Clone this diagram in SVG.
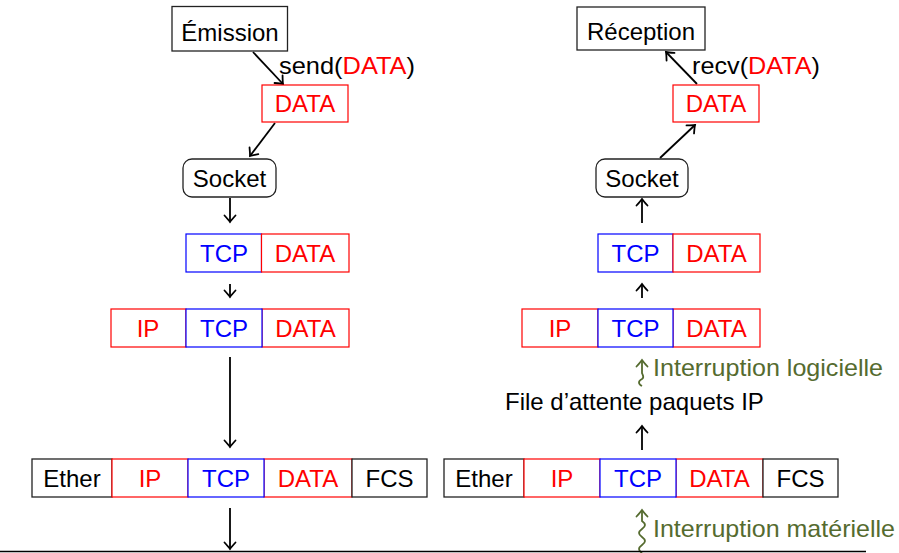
<svg xmlns="http://www.w3.org/2000/svg" width="899" height="553" viewBox="0 0 899 553">
  <defs>
    <marker id="arr" viewBox="-8 -8 16 16" markerWidth="16" markerHeight="16" refX="0" refY="0" orient="auto" markerUnits="userSpaceOnUse">
      <path d="M-6.5,-5.5 Q-1.8,-1.2 0,0 Q-1.8,1.2 -6.5,5.5" fill="none" stroke="#000" stroke-width="1.8" stroke-linecap="round"/>
    </marker>
    <marker id="arrg" viewBox="-8 -8 16 16" markerWidth="16" markerHeight="16" refX="0" refY="0" orient="auto" markerUnits="userSpaceOnUse">
      <path d="M-6.5,-5.5 Q-1.8,-1.2 0,0 Q-1.8,1.2 -6.5,5.5" fill="none" stroke="#556b2f" stroke-width="1.8" stroke-linecap="round"/>
    </marker>
  </defs>
  <style>
    text { font-family: "Liberation Sans", Arial, sans-serif; font-size: 24px; }
    .c { text-anchor: middle; }
    .k { fill: #000; }
    .r { fill: #ff0000; }
    .b { fill: #0000ff; }
    .g { fill: #556b2f; }
    .bk { fill: #fff; stroke: #222; stroke-width: 1.3; }
    .br { fill: #fff; stroke: #ff0000; stroke-width: 1.2; }
    .bb { fill: #fff; stroke: #0000ff; stroke-width: 1.2; }
    .ln { fill: none; stroke: #000; stroke-width: 1.8; marker-end: url(#arr); }
    .sn { fill: none; stroke: #556b2f; stroke-width: 1.8; marker-end: url(#arrg); }
  </style>

  <!-- connectors -->
  <g id="connectors">
    <line class="ln" x1="253" y1="52" x2="283" y2="84"/>
    <line class="ln" x1="275" y1="123" x2="250" y2="156"/>
    <line class="ln" x1="230" y1="198" x2="230" y2="222"/>
    <line class="ln" x1="230" y1="284" x2="230" y2="297"/>
    <line class="ln" x1="230" y1="357" x2="230" y2="447"/>
    <line class="ln" x1="230" y1="508" x2="230" y2="549"/>

    <line class="ln" x1="697" y1="84" x2="666" y2="52"/>
    <line class="ln" x1="660" y1="158" x2="695" y2="125"/>
    <line class="ln" x1="642" y1="223" x2="642" y2="199"/>
    <line class="ln" x1="642" y1="298" x2="642" y2="284"/>
    <line class="ln" x1="642" y1="450" x2="642" y2="426"/>

    <path class="sn" d="M642,386 c -4,-2 -4,-5 0,-7 c 3,-2 0,-5 0,-6 L642,360"/>
    <path class="sn" d="M642,553 c -4,-3 -4,-5 0,-8 c 4,-3 4,-5 0,-8 c -4,-3 -4,-5 0,-8 c 4,-3 4,-5 0,-8 L642,510"/>

    <line x1="0" y1="551.5" x2="866" y2="551.5" stroke="#000" stroke-width="1.3"/>
  </g>

  <!-- sending side -->
  <g id="emission">
    <rect class="bk" x="172" y="6.5" width="115.5" height="44.5"/>
    <text class="c k" x="230" y="41">Émission</text>
  </g>
  <g id="send-label">
    <text x="279" y="74" class="k" textLength="136" lengthAdjust="spacingAndGlyphs">send(<tspan class="r">DATA</tspan>)</text>
  </g>
  <g id="data-send">
    <rect class="br" x="262" y="85" width="86" height="37"/>
    <text class="c r" x="305" y="112">DATA</text>
  </g>
  <g id="socket-send">
    <rect class="bk" x="183" y="159" width="93" height="38" rx="9"/>
    <text class="c k" x="229.5" y="187">Socket</text>
  </g>
  <g id="tcp-seg-send">
    <rect class="bb" x="186" y="234" width="75.5" height="38"/>
    <rect class="br" x="261.5" y="234" width="87.5" height="38"/>
    <text class="c b" x="224" y="262">TCP</text>
    <text class="c r" x="305" y="262">DATA</text>
  </g>
  <g id="ip-pkt-send">
    <rect class="br" x="111" y="309" width="75" height="38"/>
    <rect class="br" x="262" y="309" width="87" height="38"/>
    <rect class="bb" x="186" y="309" width="76" height="38"/>
    <text class="c r" x="148" y="337">IP</text>
    <text class="c b" x="224" y="337">TCP</text>
    <text class="c r" x="305.5" y="337">DATA</text>
  </g>
  <g id="eth-frame-send">
    <rect class="bk" x="32" y="459" width="80" height="38"/>
    <rect class="br" x="112" y="459" width="76" height="38"/>
    <rect class="br" x="264" y="459" width="88" height="38"/>
    <rect class="bb" x="188" y="459" width="76" height="38"/>
    <rect class="bk" x="352" y="459" width="75" height="38"/>
    <text class="c k" x="72" y="487">Ether</text>
    <text class="c r" x="150" y="487">IP</text>
    <text class="c b" x="226" y="487">TCP</text>
    <text class="c r" x="308" y="487">DATA</text>
    <text class="c k" x="389.5" y="487">FCS</text>
  </g>

  <!-- receiving side -->
  <g id="reception">
    <rect class="bk" x="577" y="7" width="128" height="43"/>
    <text class="c k" x="641" y="40">Réception</text>
  </g>
  <g id="recv-label">
    <text x="692" y="74" class="k" textLength="128" lengthAdjust="spacingAndGlyphs">recv(<tspan class="r">DATA</tspan>)</text>
  </g>
  <g id="data-recv">
    <rect class="br" x="673" y="85" width="86" height="37"/>
    <text class="c r" x="716" y="112">DATA</text>
  </g>
  <g id="socket-recv">
    <rect class="bk" x="596" y="159" width="92" height="38" rx="9"/>
    <text class="c k" x="642" y="187">Socket</text>
  </g>
  <g id="tcp-seg-recv">
    <rect class="bb" x="598" y="234" width="75" height="38"/>
    <rect class="br" x="673" y="234" width="87" height="38"/>
    <text class="c b" x="635.5" y="262">TCP</text>
    <text class="c r" x="716.5" y="262">DATA</text>
  </g>
  <g id="ip-pkt-recv">
    <rect class="br" x="522" y="309" width="76" height="38"/>
    <rect class="br" x="673" y="309" width="87" height="38"/>
    <rect class="bb" x="598" y="309" width="75" height="38"/>
    <text class="c r" x="560" y="337">IP</text>
    <text class="c b" x="635.5" y="337">TCP</text>
    <text class="c r" x="716.5" y="337">DATA</text>
  </g>
  <g id="soft-irq">
    <text class="g" x="653" y="376" textLength="230" lengthAdjust="spacingAndGlyphs">Interruption logicielle</text>
  </g>
  <g id="ip-queue">
    <text class="k" x="505" y="410">File d’attente paquets IP</text>
  </g>
  <g id="eth-frame-recv">
    <rect class="bk" x="444" y="459" width="80" height="38"/>
    <rect class="br" x="524" y="459" width="76" height="38"/>
    <rect class="br" x="676" y="459" width="87" height="38"/>
    <rect class="bb" x="600" y="459" width="76" height="38"/>
    <rect class="bk" x="763" y="459" width="75" height="38"/>
    <text class="c k" x="484" y="487">Ether</text>
    <text class="c r" x="562" y="487">IP</text>
    <text class="c b" x="638" y="487">TCP</text>
    <text class="c r" x="719.5" y="487">DATA</text>
    <text class="c k" x="800.5" y="487">FCS</text>
  </g>
  <g id="hard-irq">
    <text class="g" x="653" y="537" textLength="242" lengthAdjust="spacingAndGlyphs">Interruption matérielle</text>
  </g>
</svg>
